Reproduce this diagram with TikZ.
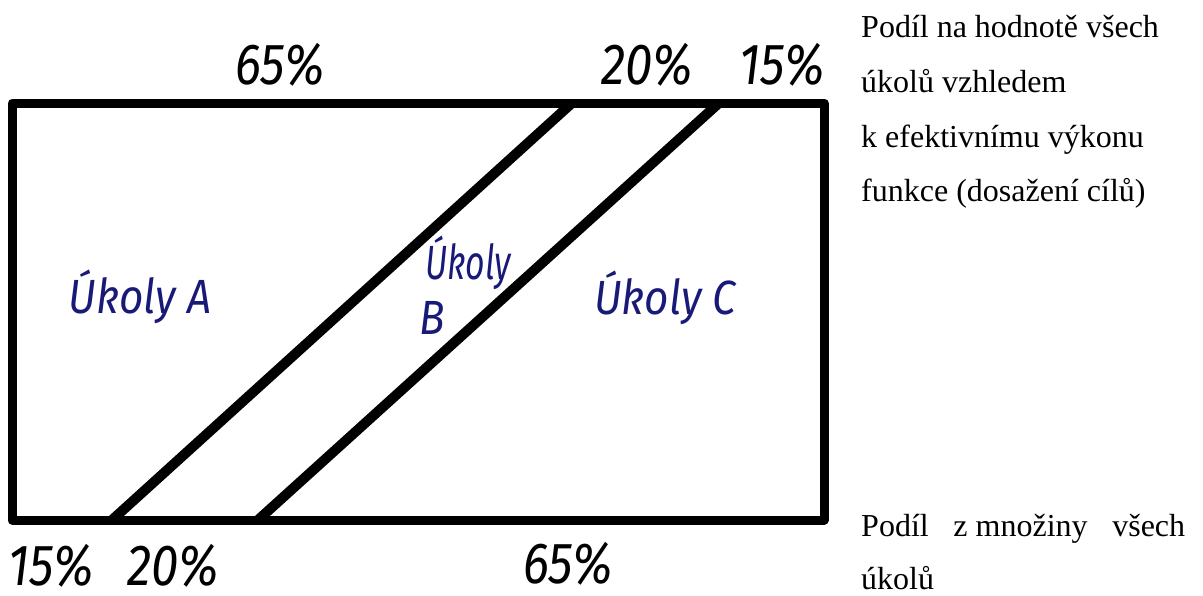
\documentclass[tikz,border=0pt]{standalone}
\usepackage{fontspec}
\setmainfont{Liberation Serif}
\newfontfamily\handfont{Fira Sans}
\definecolor{inkblue}{RGB}{25,25,120}
\begin{document}
\begin{tikzpicture}[
    x=1pt, y=-1pt,
    line cap=round,
    line join=round,
    frame/.style={line width=9pt},
    divider/.style={line width=10pt, line cap=butt},
    pct/.style={font=\handfont\itshape\fontsize{58}{58}\selectfont, xscale=0.85, inner sep=0pt, anchor=base, text depth=0pt},
    group/.style={font=\handfont\itshape\fontsize{48}{48}\selectfont, text=inkblue, xscale=0.88, inner sep=0pt, anchor=base},
    note/.style={font=\fontsize{32}{55}\selectfont, anchor=base west, inner sep=0pt}
]
\useasboundingbox (0,0) rectangle (1203,595);

\coordinate (TL) at (12,103);
\coordinate (TR) at (824,103);
\coordinate (BR) at (824,520);
\coordinate (BL) at (12,520);

\coordinate (D1b) at (112,520);
\coordinate (D1t) at (572,103);
\coordinate (D2b) at (258,520);
\coordinate (D2t) at (719,103);

\draw[frame] (TL)--(TR)--(BR)--(BL)--cycle;
\draw[divider] (D1b)--(D1t);
\draw[divider] (D2b)--(D2t);

\node[pct] (topA) at (280,84) {65\%};
\node[pct] (topB) at (647,84) {20\%};
\node[pct] (topC) at (782,84) {15\%};
\node[pct] (botA) at (51,585) {15\%};
\node[pct] (botB) at (173,585) {20\%};
\node[pct] (botC) at (568,583) {65\%};

\node[group] (grpA) at (140,313) {Úkoly A};
\node[group, xscale=0.8] (grpB1) at (468,279) {Úkoly};
\node[group] (grpB2) at (432,334) {B};
\node[group] (grpC) at (665,314) {Úkoly C};

\node[note] (val1) at (861,37) {Podíl na hodnotě všech};
\node[note] (val2) at (861,92) {úkolů vzhledem};
\node[note] (val3) at (861,147) {k efektivnímu výkonu};
\node[note] (val4) at (861,201) {funkce (dosažení cílů)};

\node[note] (cnt1) at (861,536) {\hbox to 324pt{Podíl\hfill z~množiny\hfill všech}};
\node[note] (cnt2) at (861,589) {úkolů};
\end{tikzpicture}
\end{document}
